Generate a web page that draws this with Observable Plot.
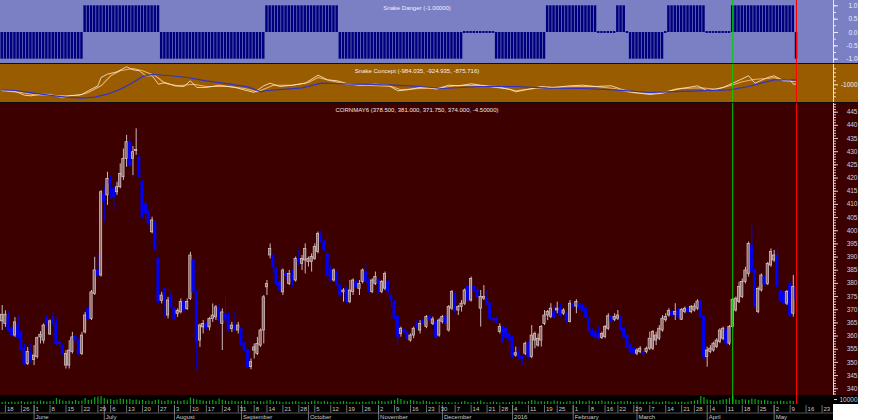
<!DOCTYPE html>
<html><head>
<meta charset="utf-8">
<script src="https://cdn.jsdelivr.net/npm/d3@7"></script>
<script src="https://cdn.jsdelivr.net/npm/@observablehq/plot@0.6"></script>
<style>
body{margin:0;background:#fff;}
#wrap{position:relative;width:880px;height:420px;overflow:hidden;}
#wrap > div{position:absolute;left:0;}
svg{display:block;}
</style>
</head><body><div id="wrap"></div>
<script>
// ---------------- DATA ----------------
const openP = [365.6,364.6,367.1,362.7,360.2,364,361.4,355,349.4,353.5,
350.9,352,359.5,358.3,367.1,360.6,367.1,364.6,357.6,356.4,
348.8,348.8,353.9,359.6,358.3,353.2,361.4,370.3,366.5,376,
384.9,383,414,413.4,419,415.9,414.6,416.5,420.3,427.3,
433.6,427.3,430.3,427.9,418.4,410.2,407,399.4,403.2,389.3,
373.4,377.9,367.8,375.4,370.3,368.4,369,372.9,370.3,374.1,
388.7,376.6,358.3,363.3,364.6,363.3,366.5,367.1,370.3,364.6,
368.4,367.8,362.7,364,362.1,362.7,357,354.5,348.2,354.5,
353.2,356.4,362.1,378.5,390.6,390.6,385.5,380.4,376.6,383.6,
379.8,383,381.1,389.3,387.4,388.7,388.1,388.1,389.3,391.9,
398.8,395.7,391.2,384.9,381.1,384.3,379.2,376.6,377.9,372.9,
376.7,380.5,377.9,380.5,384.3,381.1,376.7,379.8,381.1,376.7,
378,380.5,375.4,372.9,367.2,360.8,362.3,361.5,358.3,360.2,
364.6,362.1,365.9,363.4,367.2,364.6,365.3,360.2,365.3,367.2,
362.1,370.4,376.1,369.7,371,372.3,378.6,373.5,378.6,377.3,
370.4,374.2,374.2,372.3,366.6,366.6,361.5,363.4,362.8,360.8,
359.6,352.6,353.9,352,353.3,357.1,352,358.3,356.4,358.3,
364.6,367.8,367.2,369.1,369.7,370.7,368.5,368.5,365.3,372,
371.2,372.3,371.6,370.4,366.6,362.1,361.5,360.8,359.3,359.6,
362.8,367.2,366.2,366.6,367.2,362.8,360.2,356.4,355.2,353.3,
353.9,353.9,353.9,355.2,355.2,358.3,359,362.1,366,367.8,
369.1,368.1,369.7,366.2,369.1,370.4,369.1,369.7,370.4,372.9,
367.2,352,353.9,354.5,355.8,357.7,359,362.1,357.1,363.4,
369.7,372.9,374.8,380.5,383.6,394.4,384.9,369.1,377.3,382.4,
379.8,386.8,388.7,390.6,376.7,376.7,372.3,379.8,368.5,378.5];
const highP = [371.6,369.6,369,364,367,367.8,362,357,355.7,357,
356.4,359.6,361.7,364.6,367.8,366.1,369,366.5,358.3,357,
354.5,358.3,361.4,360.5,358.9,361.4,369,370.9,377.3,389.9,
391.2,415.2,417.1,422.2,421,417.8,418.4,425.4,431,436.2,
434.9,432,438.7,429.2,419.1,410.8,407.7,405.1,403.9,389.9,
376.6,378.5,374.7,377.3,370.9,370.3,374.1,373.5,374.1,391.8,
389.3,377.3,364.6,365.9,365.2,367.1,372.2,371.6,372.2,370.3,
374.7,369,365.2,369,365.2,363.3,357.6,355.1,351.3,357,
359.5,362.7,375.4,381.1,395,391.2,386.1,381.1,385.5,384.5,
384.9,384.9,390,392.5,390.6,395,390,391.2,395,399.5,
400.1,396.3,391.9,386.8,385.5,384.9,379.8,378,378.6,381.1,
381.7,381.1,381.1,385.5,387.4,381.7,381.7,384.3,381.7,381.1,
384.3,381.1,376.1,373.5,367.8,363.4,363,362.1,360.8,363.4,
365.9,365.9,366.5,367.8,367.8,367.2,365.9,366.6,367.8,367.8,
371.6,377.3,376.7,371.6,373.5,377.9,379.2,382.4,379.2,378.6,
377.3,379.2,377.3,372.9,367.2,367.2,364.6,364,363.4,361.5,
360.2,355.8,355.8,352.6,357.7,357.7,364,361.5,360.8,364,
369.7,369.7,372.3,371.6,372.9,372.3,370.4,369.1,373.5,372.6,
373.8,373,372,371,367.2,362.8,362.1,363.6,361.5,364,
368.5,367.8,368.5,369.7,367.8,363.4,360.8,357.1,355.8,355.2,
356,354.5,355.8,361.5,362.1,361.5,364,367.8,368.5,370.4,
369.7,372.3,370.4,370.4,371,371,371.6,372.3,373.8,373.5,
367.8,355.8,356.4,357.7,359,362.8,363.4,362.8,364,374.4,
374.8,380.5,381.7,386.1,395.7,402,385.5,378.6,383.6,383,
388,393.1,392.5,393.8,377.3,377.3,377.3,380.5,383,381];
const lowP = [362.1,363.3,361.4,359.5,359.5,358.3,353.9,348.8,348.8,349.4,
348.8,351.3,357,357,363.3,360.2,363.5,356.4,355.7,352.6,
347.5,347.5,353.2,357.5,352.6,352.6,360.8,365.9,365.9,375.4,
382.4,382.4,403.2,409.6,412.1,407.7,413.4,415.9,419.1,424.1,
424.1,420.9,428.6,419.7,404.5,402.6,401.9,398.8,392.5,372.2,
372.2,367.1,366.5,370.3,365.9,367.1,368.4,369,369.7,373.5,
376,346.9,355.7,360.8,362,362,365.2,365.9,364.6,354.5,
364.6,361.4,361.4,361.4,360.8,355.7,353.9,347.5,347.2,351.3,
352.6,355.7,357,375.4,389.3,383.6,379.2,376.6,375.4,381,
379.2,378.6,380.5,386.8,384.9,383.6,386.2,384.3,388.7,391.2,
395,391.9,382.4,380.5,380.5,378.6,374.8,372.9,372.3,372.3,
375.4,378,375.4,379.8,379.8,376.1,376.1,379.2,376.1,376.1,
377.3,376.1,370.4,365.9,356.4,359.6,360.5,358.3,357.7,359,
362.1,360.8,364.3,362.8,365.3,364,359,359.6,364.6,363.4,
361.5,369.7,368.5,367.8,369.1,371.6,372.9,372.9,376.7,374.2,
363.4,373.5,371.6,365.9,364.6,364.6,360.8,357.1,359,357.1,
351.4,352,350.7,348.8,352.6,351.4,351.4,355.2,355.8,355.8,
364,365.9,366.6,366.6,368.5,367.2,367.8,365,365,370.2,
368.5,369.7,368.9,366.6,361.5,359.6,358.3,358.8,358.7,359,
362.1,364.6,365.5,365.9,361.5,359,355.2,353.3,352.6,352.6,
353.3,352,353.3,354.5,354.5,356.4,358.3,361.5,365.3,367.2,
367.2,365.9,366.6,365.9,368.5,368.5,368.5,369.1,369.7,366.6,
350.7,348.2,353.3,353.9,355.2,357.1,358.3,356.4,356.4,363,
369.1,372.3,374.2,379.8,382.4,383.6,370.4,368.5,376.7,379.2,
379.2,386.1,388,378,372.9,371.6,371.6,367.2,367.2,371.75];
const closeP = [368.1,368.1,362.1,360.2,365.2,359.5,354.5,349.4,353.9,350.7,
352.6,359.2,360.5,364,364.6,365.6,364.6,357,357,353.2,
353.2,354.5,359.5,358.3,353.2,360.2,367.8,366.5,376.6,384.9,
383,414.6,410.8,419.7,417.8,412.7,416.5,421.6,427.3,433.6,
424.7,429.8,430.6,420.3,405.1,406.4,402.6,403.9,392.5,372.9,
375.4,374.1,373.5,370.9,366.5,369.6,372.9,369.7,372.9,390.6,
376.6,357.6,364,364.6,363.3,366.5,367.8,370.9,365.9,369,
365.9,362.1,364,362.1,364,356.4,354.5,348.2,350.1,355.7,
357,362.1,374.7,379.8,393.1,386.1,379.8,377.3,384.9,383,
383.6,381.8,389.3,388.1,389.3,393.1,389.3,390,393.8,398.8,
395.7,392.5,383,381.1,384.9,379.2,375.4,377.3,372.9,377.3,
381.1,378.6,379.8,384.9,380.5,376.7,381.1,382.4,380.5,380.5,
383.6,376.7,373.5,366.6,359.6,362.8,361.5,359,360.2,362.8,
363.4,364.6,364.6,367.2,365.9,366.3,359.6,365.9,367.2,364.6,
371,376.7,369.1,371,372.3,377.3,373.5,381.7,377.3,374.8,
374.8,374.8,372.3,366.6,365.9,365.3,363.4,357.7,359.6,358.3,
352,353.5,352,351.4,357.1,352,360.2,360.8,359,363.4,
367.8,369.1,370.4,367.2,370.4,367.8,369.7,365.7,372.3,371,
372.9,370.4,369.5,367.2,362.1,360.2,359.6,359,360.8,363.4,
367.5,365.3,367.2,367.8,362.1,359.6,355.8,353.9,353.5,354.5,
355.2,353.3,355.2,359,361.5,360.2,362.8,366.6,367.2,369.5,
367.8,369.1,367.2,370,370.4,369.1,371,371.2,373.1,367.2,
352,354.5,355.2,357.1,358.3,362.1,362.8,357.1,363.4,373.8,
374.2,378.6,380.5,384.9,395,384.3,371.6,377.9,383,379.8,
387.4,391.9,390.6,378.6,373.5,372.3,376.7,367.8,378.6,374];
const volume = [4000,5000,4000,5000,4000,5000,6000,4000,5000,5000,
6000,5000,7000,6000,5000,6000,6000,12000,9000,7000,
6000,7000,6000,8000,6000,7000,12000,8000,9000,14000,
15000,16000,12000,9000,10000,8000,9000,11000,10000,9000,
10000,8000,9000,7000,8000,6000,7000,6000,8000,9000,
7000,6000,8000,7000,6000,7000,6000,8000,7000,13000,
11000,9000,8000,7000,6000,7000,8000,6000,11000,8000,
7000,6000,7000,6000,5000,6000,7000,6000,5000,6000,
5000,6000,5000,7000,8000,5000,6000,5000,4000,5000,
4000,5000,6000,5000,4000,5000,4000,6000,7000,6000,
5000,6000,5000,4000,5000,4000,5000,6000,5000,4000,
4000,5000,4000,5000,4000,5000,6000,5000,7000,6000,
5000,6000,7000,8000,12000,10000,7000,6000,8000,7000,
6000,5000,7000,6000,5000,4000,5000,4000,4000,3000,
4000,3000,4000,3000,5000,6000,4000,3000,4000,5000,
7000,4000,3000,4000,5000,4000,3000,4000,3000,4000,
4000,5000,6000,5000,4000,6000,8000,7000,5000,6000,
5000,6000,5000,7000,6000,5000,4000,5000,6000,5000,
6000,7000,6000,5000,7000,6000,5000,6000,7000,5000,
6000,5000,4000,5000,6000,5000,6000,5000,4000,5000,
5000,4000,5000,4000,6000,5000,4000,5000,6000,5000,
4000,5000,4000,5000,4000,5000,6000,7000,8000,16000,
14000,9000,8000,7000,6000,8000,9000,10000,12000,17000,
9000,8000,10000,9000,8000,11000,10000,8000,7000,8000,
7000,6000,5000,6000,7000,6000,5000,7000,6000,5000];
const danger = [-1,-1,-1,-1,-1,-1,-1,-1,-1,-1,
-1,-1,-1,-1,-1,-1,-1,-1,-1,-1,
-1,-1,-1,-1,-1,-1,1,1,1,1,
1,1,1,1,1,1,1,1,1,1,
1,1,1,1,1,1,1,1,1,1,
-1,-1,-1,-1,-1,-1,-1,-1,-1,-1,
-1,-1,-1,-1,-1,-1,-1,-1,-1,-1,
-1,-1,-1,-1,-1,-1,-1,-1,-1,-1,
-1,-1,-1,1,1,1,1,1,1,1,
1,1,1,1,1,1,1,1,1,1,
1,1,1,1,1,1,-1,-1,-1,-1,
-1,-1,-1,-1,-1,-1,-1,-1,-1,-1,
-1,-1,-1,-1,-1,-1,-1,-1,-1,-1,
-1,-1,-1,-1,-1,-1,-1,-1,-1,-1,
-1,-1,-1,-1,-1,0,0,0,0,0,
0,0,0,0,0,-1,-1,-1,-1,-1,
-1,-1,-1,-1,-1,-1,-1,-1,-1,-1,
-1,1,1,1,1,1,1,1,1,1,
1,1,1,1,1,1,1,0,0,0,
0,0,0,1,1,1,0,-1,-1,-1,
-1,-1,-1,-1,-1,-1,-1,-1,0,1,
1,1,1,1,1,1,1,1,1,1,
1,0,0,0,0,0,0,0,0,1,
1,1,1,1,1,1,1,1,1,1,
1,1,1,1,1,1,1,1,1,-1];
// Snake Concept lines (bar index, value)
const whiteX = [0,4,7,9,12,15,19,21,25,27,30,31,33,36,39,41,43,45,47,49,51,54,57,59,61,64,68,73,77,79,82,84,87,91,95,99,102,105,108,112,117,121,124,127,131,134,136,140,143,147,150,155,159,161,165,169,173,178,182,186,191,194,198,203,207,211,215,218,221,226,229,234,236,240,242,245,247,248,249];
const whiteV = [-1135,-1160,-1260,-1275,-1235,-1242,-1325,-1275,-1242,-1150,-1025,-817,-735,-675,-550,-625,-650,-775,-775,-985,-942,-1025,-1042,-900,-1067,-1067,-1010,-1067,-1150,-1192,-1025,-960,-1042,-1010,-960,-760,-875,-900,-967,-1010,-985,-1010,-1150,-1125,-1067,-1067,-1110,-1010,-1025,-975,-1010,-1067,-1110,-1175,-1110,-1042,-1067,-1025,-1010,-1042,-1025,-1110,-1192,-1242,-1210,-1110,-1067,-1025,-1150,-1067,-960,-775,-960,-817,-775,-900,-875,-985,-984];
const orangeX = [0,6,10,15,20,24,27,31,34,37,41,44,48,51,55,60,64,71,76,80,82,85,91,96,99,103,108,114,122,125,131,136,142,148,155,161,167,173,180,186,192,197,203,208,213,219,224,228,232,236,240,242,245,249];
const orangeV = [-1150,-1192,-1250,-1260,-1275,-1260,-1192,-1025,-775,-650,-592,-650,-775,-960,-1025,-985,-1042,-1042,-1092,-1175,-1110,-1010,-1010,-942,-817,-900,-985,-1010,-1042,-1125,-1092,-1092,-1025,-1010,-1042,-1150,-1092,-1060,-1042,-1042,-1092,-1192,-1217,-1175,-1092,-1075,-1110,-1025,-925,-860,-842,-817,-900,-925];
const blueX = [0,4,10,14,19,25,29,33,37,41,44,47,52,58,64,71,77,81,83,89,94,100,104,110,116,123,131,138,150,161,171,182,192,203,208,218,228,234,242,249];
const blueV = [-1125,-1142,-1210,-1250,-1300,-1335,-1310,-1235,-1110,-942,-792,-742,-767,-817,-900,-975,-1050,-1175,-1142,-1110,-1075,-960,-967,-985,-992,-1010,-1042,-1092,-1042,-1042,-1085,-1092,-1125,-1192,-1175,-1150,-1125,-1042,-875,-876];
// x axis ticks (bar index of first session of each week) and labels
const weekIdx = [1,6,10,15,20,25,30,34,39,44,49,54,59,64,69,74,79,83,88,93,98,103,108,113,118,123,128,133,137,142,147,152,156,160,165,170,174,179,184,189,193,198,203,208,213,217,222,227,232,237,242,247,252,257];
const weekLabels = ["18","26","1","8","15","22","29","6","13","20","27","3","10","17","24","31","8","14","21","28","5","12","19","26","2","9","16","23","30","7","14","21","28","4","11","19","25","1","8","16","22","29","7","14","21","28","4","11","18","25","2","9","16","23"];
const monthIdx = [10,32,54,75,96,118,138,160,179,199,221,242];
const monthLabels = ["June","July","August","September","October","November","December","2016","February","March","April","May"];
const priceTicks = [340,345,350,355,360,365,370,375,380,385,390,395,400,405,410,415,420,425,430,435,440,445];
const dangerTicks = [-1,-0.5,0,0.5,1];
const conceptTicks = [-1000];
const volumeTicks = [10000];
const greenIdx = 229, redIdx = 249;
const titleDanger = "Snake Danger (-1.00000)";
const titleConcept = "Snake Concept (-984.035, -924.935, -875.716)";
const titleMain = "CORNMAY6 (378.500, 381.000, 371.750, 374.000, -4.50000)";

// ---------------- LAYOUT ----------------
const W = 858, MR = 25;
const xDomain = [-0.53, 260.6];
const FONT = "'Liberation Sans', Arial, sans-serif";
const wrap = document.getElementById("wrap");
function place(el, top, left, w, h, bg) {
  const d = document.createElement("div");
  d.style.top = top + "px"; d.style.left = (left||0) + "px";
  if (w) { d.style.width = w + "px"; d.style.height = h + "px"; d.style.background = bg; }
  if (el) d.appendChild(el);
  wrap.appendChild(d);
}
place(null, 0, 0, W, 404, "#140a14");

function base(height, ydomain, bg, marks, extra) {
  return Plot.plot(Object.assign({
    width: W, height, marginLeft: 0, marginRight: MR, marginTop: 0, marginBottom: 0,
    x: {domain: xDomain, axis: null},
    y: {domain: ydomain, axis: null},
    style: {background: bg, fontFamily: FONT, fontSize: "6.5px", overflow: "visible"},
    marks
  }, extra || {}));
}
const vlines = (y1, y2) => [
  Plot.ruleX([greenIdx], {y1, y2, stroke: "#00d000", strokeWidth: 1}),
  Plot.ruleX([redIdx], {y1, y2, stroke: "#ff0000", strokeWidth: 1})
];
const axisLine = (y1, y2, c) => Plot.ruleX([xDomain[1]], {y1, y2, stroke: c, strokeWidth: 1});

// ---- Snake Danger panel ----
const dBars = danger.map((v, i) => ({i, v}));
const dDom = [-1.161, 1.198];
const dangerPlot = base(63, dDom, "#7b7fc3", [
  Plot.rect(dBars.filter(d => d.v !== 0), {x1: d => d.i - 0.5, x2: d => d.i + 0.5, y1: 0, y2: "v", fill: "#00007e", insetLeft: 0.35, insetRight: 0.35}),
  Plot.rect(dBars.filter(d => d.v === 0), {x1: d => d.i - 0.5, x2: d => d.i + 0.5, y1: -0.035, y2: 0.035, fill: "#00007e", insetLeft: 0.35, insetRight: 0.35}),
  ...vlines(dDom[0], dDom[1]),
  axisLine(dDom[0], dDom[1], "#e8e8f4"),
  Plot.axisY({anchor: "right", ticks: [-1,-0.75,-0.5,-0.25,0,0.25,0.5,0.75,1], tickSize: 2, tickFormat: () => "", color: "#e8e8f4", label: null}),
  Plot.axisY({anchor: "right", ticks: dangerTicks, tickSize: 4, tickPadding: 20, textAnchor: "end", tickFormat: d => d.toFixed(1), color: "#eeeef8", label: null}),
  Plot.text([titleDanger], {frameAnchor: "top", dy: 5, fill: "#f0f0ff", fontSize: 6})
]);
place(dangerPlot, 0);

// ---- Snake Concept panel ----
const cDom = [-1442.5, -492.5];
const line = (X, V) => X.map((x, k) => ({x, v: V[k]}));
const conceptPlot = base(38, cDom, "#9a5c00", [
  Plot.line(line(orangeX, orangeV), {x: "x", y: "v", stroke: "#f2b060", strokeWidth: 1.1}),
  Plot.line(line(whiteX, whiteV), {x: "x", y: "v", stroke: "#fbf0dc", strokeWidth: 0.8}),
  Plot.line(line(blueX, blueV), {x: "x", y: "v", stroke: "#3232c8", strokeWidth: 1.2}),
  ...vlines(cDom[0], cDom[1]),
  axisLine(cDom[0], cDom[1], "#f0e0d0"),
  Plot.axisY({anchor: "right", ticks: [-1300,-1200,-1100,-900,-800,-700,-600], tickSize: 2, tickFormat: () => "", color: "#f0e0d0", label: null}),
  Plot.axisY({anchor: "right", ticks: conceptTicks, tickSize: 4, tickPadding: 20, textAnchor: "end", tickFormat: d => String(d), color: "#f4ece4", label: null}),
  Plot.text([titleConcept], {frameAnchor: "top", dy: 4, fill: "#f6f0e8", fontSize: 6})
]);
place(conceptPlot, 64);

// ---- Price panel ----
const bars = openP.map((o, i) => {
  const c = closeP[i];
  let lo = Math.min(o, c), hi = Math.max(o, c);
  if (hi - lo < 0.4) { const m = (hi + lo) / 2; lo = m - 0.2; hi = m + 0.2; }
  return {i, o, c, h: highP[i], l: lowP[i], lo, hi, up: c >= o};
});
const pDom = [337.44, 448.3];
const minor = d3.range(338, 449, 1);
const pricePlot = base(292, pDom, "#3c0000", [
  Plot.ruleX(bars, {x: "i", y1: "l", y2: "h", stroke: d => d.up ? "#cdb8b8" : "#0000ff", strokeWidth: 1}),
  Plot.rect(bars, {x1: d => d.i - 0.36, x2: d => d.i + 0.36, y1: "lo", y2: "hi",
    fill: d => d.up ? "#8c6b6b" : "#0000ff", stroke: d => d.up ? "#dccaca" : "#0000ff", strokeWidth: 0.7}),
  ...vlines(pDom[0], pDom[1]),
  axisLine(pDom[0], pDom[1], "#e0d8d8"),
  Plot.axisY({anchor: "right", ticks: minor, tickSize: 2, tickFormat: () => "", color: "#d8d0d0", label: null}),
  Plot.axisY({anchor: "right", ticks: priceTicks, tickSize: 4, tickPadding: 20, textAnchor: "end", tickFormat: d => String(d), color: "#d4cccc", label: null}),
  Plot.text([titleMain], {frameAnchor: "top", dy: 4.5, fill: "#f0e8e8", fontSize: 6})
]);
place(pricePlot, 103);

// ---- Volume strip ----
const vDom = [0, 18000];
const vBars = volume.map((v, i) => ({i, v}));
const volPlot = base(9, vDom, "#000000", [
  Plot.ruleX(vBars, {x: "i", y1: 0, y2: "v", stroke: "#10a810", strokeWidth: 1.2}),
  ...vlines(vDom[0], vDom[1]),
  Plot.axisY({anchor: "right", ticks: volumeTicks, tickSize: 3, tickPadding: 21, textAnchor: "end", tickFormat: d => String(d), color: "#d0d0d0", label: null})
]);
place(volPlot, 395);

// ---- Date axis ----
const wk = weekIdx.map((x, k) => ({x, t: weekLabels[k]}));
const mo = monthIdx.map((x, k) => ({x, t: monthLabels[k]}));
const datePlot = Plot.plot({
  width: 833, height: 16, marginLeft: 0, marginRight: 0, marginTop: 0, marginBottom: 0,
  x: {domain: xDomain, range: [0, 833], axis: null},
  y: {domain: [16, 0], range: [16, 0], axis: null},
  style: {background: "#000", fontFamily: FONT, fontSize: "6px", overflow: "hidden"},
  marks: [
    Plot.ruleY([8.5], {stroke: "#6a6a6a", strokeWidth: 0.8}),
    Plot.ruleX(wk, {x: "x", y1: 1, y2: 8.5, stroke: "#8c8c8c", strokeWidth: 0.8}),
    Plot.ruleX(mo, {x: "x", y1: 1, y2: 16, stroke: "#8c8c8c", strokeWidth: 0.8}),
    Plot.text(wk, {x: "x", y: 5, text: "t", dx: 1.5, textAnchor: "start", fill: "#c8c8c8"}),
    Plot.text(mo, {x: "x", y: 13, text: "t", dx: 1.5, textAnchor: "start", fill: "#c8c8c8"})
  ]
});
place(datePlot, 404);
</script>
</body></html>
